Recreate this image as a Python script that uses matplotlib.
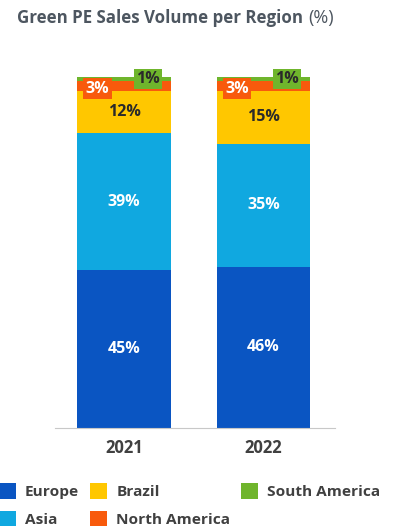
import matplotlib
matplotlib.use('Agg')
import matplotlib.pyplot as plt
from matplotlib.patches import Patch
import numpy as np

plt.rcParams['font.family'] = ['Open Sans', 'DejaVu Sans']

years = ['2021', '2022']
regions = ['Europe', 'Asia', 'Brazil', 'North America', 'South America']
europe = [45, 46]
asia = [39, 35]
brazil = [12, 15]
north_america = [3, 3]
south_america = [1, 1]

colors = ['#0a55c2', '#10a8e0', '#ffc700', '#f85a0c', '#6fb52c']
text_dark = '#2a2a2a'
grey = '#4d5660'

fig = plt.figure(figsize=(3.99, 5.29), dpi=100)
ax = fig.add_axes([55 / 399, 1 - 428 / 529, 280 / 399, 351 / 529])

x = np.arange(len(years))
width = 0.67
series = [europe, asia, brazil, north_america, south_america]
bottom = np.zeros(len(years))
bars = []
for vals, c in zip(series, colors):
    ax.bar(x, vals, width, bottom=bottom, color=c, edgecolor='none')
    bars.append((vals, bottom.copy()))
    bottom += np.array(vals)

# big segments get centred labels
for i in range(3):
    vals, bot = bars[i]
    for j in range(len(years)):
        ax.text(x[j], bot[j] + vals[j] / 2, f'{vals[j]}%', ha='center', va='center',
                fontsize=11.5, fontweight='bold',
                color='white' if i < 2 else text_dark)

# small segments get boxed labels sitting on top of them
for j in range(len(years)):
    vals, bot = bars[3]
    ax.text(x[j] - 0.19, bot[j] + vals[j] / 2 - 0.8, f'{vals[j]}%', ha='center', va='center',
            fontsize=11.5, fontweight='bold', color='white',
            bbox=dict(boxstyle='square,pad=0.14', fc=colors[3], ec='none'))
    vals, bot = bars[4]
    ax.text(x[j] + 0.17, bot[j] + vals[j] / 2 - 0.1, f'{vals[j]}%', ha='center', va='center',
            fontsize=11.5, fontweight='bold', color=text_dark,
            bbox=dict(boxstyle='square,pad=0.14', fc=colors[4], ec='none'))

ax.set_xlim(-0.495, 1.513)
ax.set_ylim(0, 100)
ax.set_xticks(x)
ax.set_xticklabels(years, fontsize=12, fontweight='bold', color='#404040')
ax.tick_params(axis='x', length=0, pad=8)
ax.set_yticks([])
for s in ['top', 'right', 'left']:
    ax.spines[s].set_visible(False)
ax.spines['bottom'].set_color('#c8c8c8')

fig.text(17 / 399, 1 - 18 / 529, 'Green PE Sales Volume per Region', fontsize=12.2,
         fontweight='bold', color=grey, va='center', ha='left')
fig.text(308 / 399, 1 - 18 / 529, '(%)', fontsize=13, color=grey, va='center', ha='left')

handles = [Patch(facecolor=c, edgecolor='none') for c in colors]
fig.legend(handles, regions, ncol=3, loc='upper left', bbox_to_anchor=(-0.003, 1 - 483 / 529),
           frameon=False, handlelength=1.1, handleheight=1.2,
           handletextpad=0.6, columnspacing=0.7, labelspacing=0.75, borderpad=0,
           borderaxespad=0, labelcolor='#404040', prop={'weight': 'bold', 'size': 11.1})

fig.savefig('out.png', dpi=100)
